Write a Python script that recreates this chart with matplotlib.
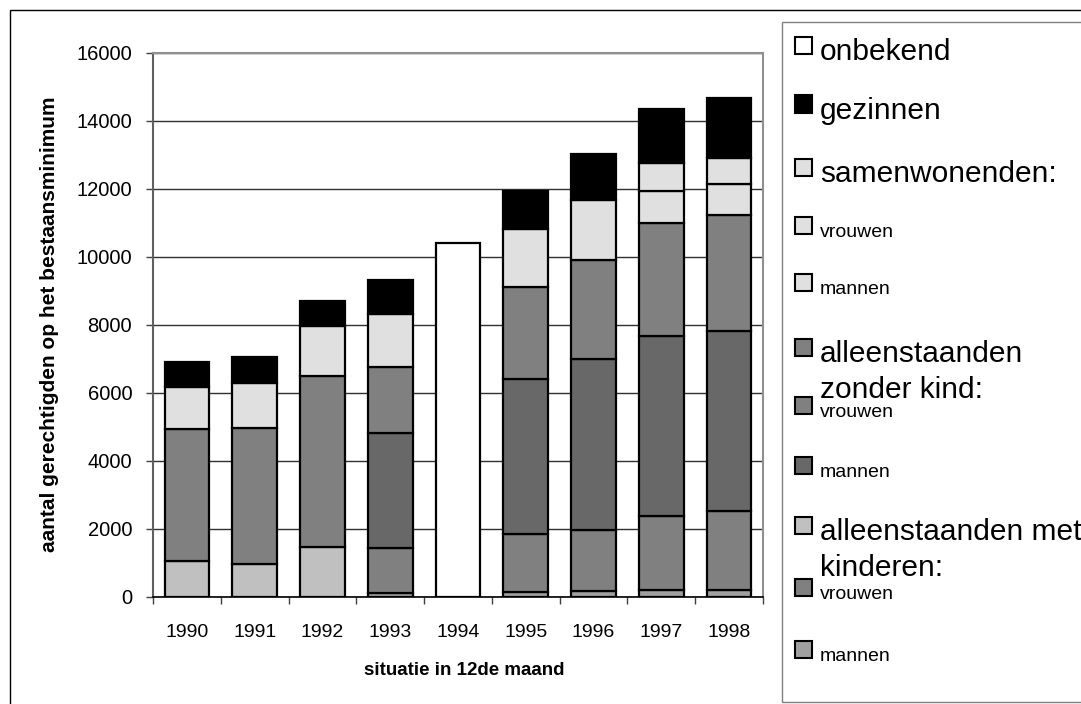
import matplotlib
matplotlib.use("Agg")
import matplotlib.pyplot as plt
from matplotlib.patches import Rectangle
import numpy as np

plt.rcParams["font.family"] = ["Liberation Sans", "DejaVu Sans"]

years = ["1990", "1991", "1992", "1993", "1994", "1995", "1996", "1997", "1998"]

# stacked from bottom to top
met_mannen = [0, 0, 0, 100, 0, 130, 150, 200, 200]
met_vrouwen = [0, 0, 0, 1330, 0, 1700, 1800, 2180, 2330]
met_totaal = [1040, 950, 1450, 0, 0, 0, 0, 0, 0]
zonder_mannen = [0, 0, 0, 3390, 0, 4570, 5040, 5300, 5290]
zonder_vrouwen = [0, 0, 0, 1930, 0, 2700, 2920, 3310, 3410]
zonder_totaal = [3900, 4010, 5040, 0, 0, 0, 0, 0, 0]
samen_mannen = [0, 0, 0, 0, 0, 0, 0, 940, 900]
samen_vrouwen = [0, 0, 0, 0, 0, 0, 0, 820, 790]
samen_totaal = [1240, 1320, 1460, 1570, 0, 1720, 1760, 0, 0]
gezinnen = [720, 770, 760, 990, 0, 1130, 1350, 1600, 1760]
onbekend = [0, 0, 0, 0, 10400, 0, 0, 0, 0]

series = [
    (met_mannen, "#a0a0a0"),
    (met_vrouwen, "#808080"),
    (met_totaal, "#c0c0c0"),
    (zonder_mannen, "#686868"),
    (zonder_vrouwen, "#808080"),
    (zonder_totaal, "#808080"),
    (samen_mannen, "#e0e0e0"),
    (samen_vrouwen, "#e0e0e0"),
    (samen_totaal, "#e0e0e0"),
    (gezinnen, "#000000"),
    (onbekend, "#ffffff"),
]

# legend entries: (text lines, colour, big text?)
legend_items = [
    (["onbekend"], "#ffffff", True),
    (["gezinnen"], "#000000", True),
    (["samenwonenden:"], "#e0e0e0", True),
    (["vrouwen"], "#e0e0e0", False),
    (["mannen"], "#e0e0e0", False),
    (["alleenstaanden", "zonder kind:"], "#808080", True),
    (["vrouwen"], "#808080", False),
    (["mannen"], "#686868", False),
    (["alleenstaanden met", "kinderen:"], "#c0c0c0", True),
    (["vrouwen"], "#808080", False),
    (["mannen"], "#a0a0a0", False),
]

W, H = 1081, 704
fig = plt.figure(figsize=(W / 100, H / 100), dpi=100)


def fx(px):
    return px / W


def fy(py):
    return 1 - py / H


# outer chart frame (runs off the right and bottom edges)
fig.patches.append(Rectangle((fx(10), -0.1), 1.2, fy(10) + 0.1, transform=fig.transFigure,
                             fill=False, edgecolor="black", lw=1.0))

ax = fig.add_axes([fx(153), fy(596.5), fx(763) - fx(153), fy(53) - fy(596.5)])

x = np.arange(len(years))
bottom = np.zeros(len(years))
for vals, col in series:
    v = np.array(vals, dtype=float)
    mask = v > 0
    ax.bar(x[mask], v[mask], 0.66, bottom=bottom[mask], color=col, edgecolor="black",
           linewidth=1.6, zorder=3)
    bottom += v

ax.set_xlim(-0.5, len(years) - 0.5)
ax.set_ylim(0, 16000)
ax.set_yticks(np.arange(0, 16001, 2000))
ax.set_yticklabels([str(v) for v in range(0, 16001, 2000)], fontsize=14.5)
ax.set_xticks(x)
ax.set_xticklabels(years, fontsize=14)
ax.set_xticks(np.arange(-0.5, len(years)), minor=True)
ax.tick_params(axis="x", which="major", length=0, pad=20)
ax.tick_params(axis="x", which="minor", length=5, width=1.0, color="#404040")
ax.tick_params(axis="y", length=5, width=1.0, color="#404040", pad=10)
ax.yaxis.grid(True, color="#303030", lw=1.0, zorder=0)
ax.set_axisbelow(True)

for side in ("top", "right"):
    ax.spines[side].set_color("#909090")
    ax.spines[side].set_linewidth(1.5)
ax.spines["left"].set_color("#606060")
ax.spines["left"].set_linewidth(1.5)
ax.spines["bottom"].set_color("black")
ax.spines["bottom"].set_linewidth(1.2)

ax.set_xlabel("situatie in 12de maand", fontsize=13.5, fontweight="bold")
ax.xaxis.set_label_coords(0.51, -0.12)
ax.xaxis.label.set_va("top")
ax.set_ylabel("aantal gerechtigden op het bestaansminimum", fontsize=15, fontweight="bold")
ax.yaxis.set_label_coords(-0.169, 0.5)
ax.yaxis.label.set_va("center")

# legend box (runs off the right edge)
fig.patches.append(Rectangle((fx(782), fy(702)), 0.5, fy(22) - fy(702), transform=fig.transFigure,
                             fill=False, edgecolor="#808080", lw=1.0))

marker_y = [45, 104, 167, 225, 282, 347, 405, 465, 525, 587, 649]
for (lines, col, big), my in zip(legend_items, marker_y):
    fig.patches.append(Rectangle((fx(795), fy(my + 8.5)), fx(17), fy(my - 8.5) - fy(my + 8.5),
                                 transform=fig.transFigure, facecolor=col,
                                 edgecolor="black", lw=1.5))
    if big:
        for i, line in enumerate(lines):
            fig.text(fx(820), fy(my + 15 + 36 * i), line, fontsize=21.5, va="baseline",
                     ha="left")
    else:
        fig.text(fx(820), fy(my + 12), lines[0], fontsize=14, va="baseline", ha="left")

fig.savefig("out.png", dpi=100)
